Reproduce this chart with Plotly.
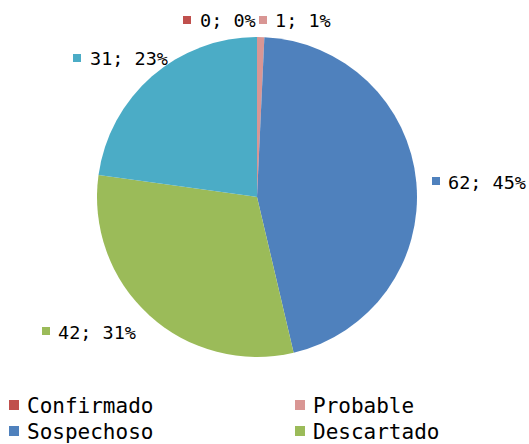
import plotly.graph_objects as go

categories = ["Confirmado", "Probable", "Sospechoso", "Descartado", "Otros"]
values = [0, 1, 62, 42, 31]
percent_labels = ["0%", "1%", "45%", "31%", "23%"]
colors = ["#C0504D", "#D99694", "#4F81BD", "#9BBB59", "#4BACC6"]
legend_items = ["Confirmado", "Probable", "Sospechoso", "Descartado"]

W, H = 529, 444
FONT = "DejaVu Sans Mono"

fig = go.Figure()
fig.add_trace(go.Pie(
    labels=categories, values=values, marker=dict(colors=colors, line=dict(width=0)),
    sort=False, direction="clockwise", rotation=0, textinfo="none",
    hoverinfo="label+value+percent", showlegend=False,
    domain=dict(x=[(257 - 160) / W, (257 + 160) / W], y=[1 - 357 / H, 1 - 37 / H]),
))

def px(x, y):
    return x / W, 1 - y / H

def add_key(x0, cy, size, color):
    fig.add_shape(
        type="rect", xref="paper", yref="paper",
        x0=x0 / W, x1=(x0 + size) / W,
        y0=1 - (cy + size / 2) / H, y1=1 - (cy - size / 2) / H,
        fillcolor=color, line=dict(width=0),
    )

# data labels: (square left x, vertical center y, text left x) in pixels
label_pos = [(183, 20, 198), (259, 20, 273), (432, 181, 446), (42, 331, 56), (73, 58, 88)]
for i, (sx, cy, tx) in enumerate(label_pos):
    add_key(sx, cy, 8, colors[i])
    xx, yy = px(tx, cy + 1)
    fig.add_annotation(
        x=xx, y=yy, xref="paper", yref="paper", xanchor="left", yanchor="middle",
        showarrow=False, text=f"{values[i]}; {percent_labels[i]}",
        font=dict(family=FONT, size=18.5, color="#000000"),
    )

legend_pos = [(9, 405, 25), (295, 405, 311), (9, 431, 25), (295, 431, 311)]
for i, name in enumerate(legend_items):
    sx, cy, tx = legend_pos[i]
    add_key(sx, cy, 10, colors[categories.index(name)])
    xx, yy = px(tx, cy + 1)
    fig.add_annotation(
        x=xx, y=yy, xref="paper", yref="paper", xanchor="left", yanchor="middle",
        showarrow=False, text=name,
        font=dict(family=FONT, size=21, color="#000000"),
    )

fig.update_layout(
    width=W, height=H, margin=dict(l=0, r=0, t=0, b=0),
    paper_bgcolor="white", plot_bgcolor="white",
)
fig.write_html("out.html", config={"displayModeBar": False},
               post_script="document.body.style.margin='0';")
